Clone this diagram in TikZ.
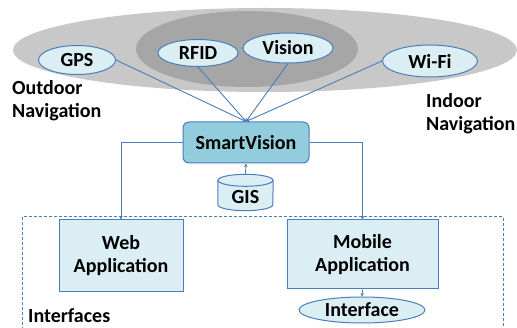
\documentclass[tikz,border=0pt]{standalone}
\usepackage{fontspec}
\setmainfont{Carlito}
\usetikzlibrary{shapes.geometric,arrows.meta}
\definecolor{bord}{HTML}{4A7EBB}
\definecolor{lfill}{HTML}{DBEEF4}
\definecolor{sfill}{HTML}{93CDDD}
\definecolor{gOut}{HTML}{C8C8C8}
\definecolor{gIn}{HTML}{A6A6A6}
\tikzset{
  every node/.style={font=\fontsize{20}{23}\selectfont\bfseries, text=black},
  tech/.style={ellipse, draw=bord, fill=lfill, line width=1pt, inner sep=0pt},
  appbox/.style={rectangle, draw=bord, fill=lfill, line width=1pt, align=center},
  conn/.style={draw=bord, line width=0.9pt},
  tip/.style={-{Stealth[length=3.5pt,width=3.5pt]}},
  lbl/.style={align=left, anchor=west, inner sep=0pt}
}
\begin{document}
\begin{tikzpicture}[x=1pt,y=-1pt]
\useasboundingbox (0,0) rectangle (517,328);
% grey regions
\fill[gOut] (265,50) ellipse [x radius=252, y radius=42];
\fill[gIn] (247,49) ellipse [x radius=111, y radius=38];
% technology ellipses
\node[tech, minimum width=77, minimum height=29] (gps) at (77,60) {GPS};
\node[tech, minimum width=80, minimum height=27] (rfid) at (198,53) {RFID};
\node[tech, minimum width=90, minimum height=30] (vision) at (288,48) {Vision};
\node[tech, minimum width=95, minimum height=32] (wifi) at (430,61) {Wi-Fi};
% labels
\node[lbl] (outdoor) at (12,101) {Outdoor\\Navigation};
\node[lbl] (indoor) at (426,114) {Indoor\\Navigation};
% SmartVision
\node[rectangle, rounded corners=6pt, draw=bord, fill=sfill, line width=1pt,
      minimum width=126, minimum height=41] (sv) at (246,142.5) {SmartVision};
% GIS cylinder
\node[minimum width=55, minimum height=36, inner sep=0pt] (gis) at (245.5,192.5) {};
\coordinate (gtl) at ([yshift=-6pt]gis.north west);
\coordinate (gtc) at ([yshift=-6pt]gis.north);
\coordinate (gtr) at ([yshift=-6pt]gis.north east);
\coordinate (gbl) at ([yshift=6pt]gis.south west);
\fill[lfill] (gtl) -- (gbl) arc[start angle=180, end angle=0, x radius=27.5, y radius=6] -- (gtr) -- cycle;
\draw[bord, line width=1pt] (gtl) -- (gbl) arc[start angle=180, end angle=0, x radius=27.5, y radius=6] -- (gtr);
\draw[bord, fill=lfill, line width=1pt] (gtc) ellipse [x radius=27.5, y radius=6];
\node (gistext) at (245.5,197) {GIS};
% interfaces frame
\coordinate (fbl) at (22,330);
\coordinate (ftl) at (22,217);
\coordinate (ftr) at (503,217);
\coordinate (fbr) at (503,330);
\draw[bord, line width=1pt, dash pattern=on 3pt off 2pt] (fbl) -- (ftl) -- (ftr) -- (fbr);
% apps
\node[appbox, minimum width=124, minimum height=72] (web) at (121,256) {Web\\Application};
\node[appbox, minimum width=151, minimum height=69] (mob) at (362.5,254.5) {Mobile\\Application};
\node[tech, minimum width=126, minimum height=26] (intf) at (362,310) {Interface};
\node[lbl] (intlbl) at (28,316) {Interfaces};
% connectors
\draw[conn, tip] (gis.north) -- (sv.south);
\draw[conn, tip] (gps.east) -- (sv.north);
\draw[conn, tip] (rfid.south) -- (sv.north);
\draw[conn, tip] (vision.south) -- (sv.north);
\draw[conn, tip] (wifi.west) -- (sv.north);
\draw[conn, tip] (sv.west) -| (web.north);
\draw[conn, tip] (sv.east) -| (mob.north);
\draw[conn, tip] (mob.south) -- (intf.north);
\end{tikzpicture}
\end{document}
